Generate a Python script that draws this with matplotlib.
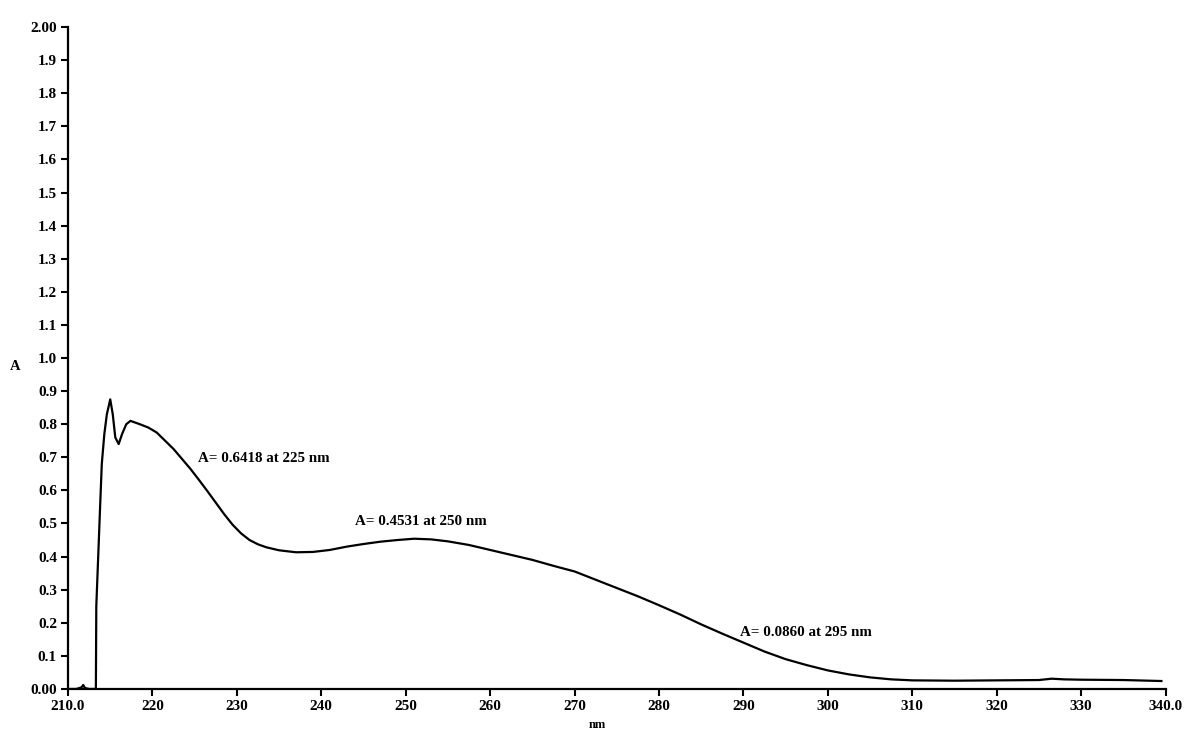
import matplotlib
matplotlib.use("Agg")
import matplotlib.pyplot as plt
from matplotlib.ticker import FixedLocator, FixedFormatter

# ---- data ----
wavelength = [210.0, 211.0, 211.6, 211.8, 212.0, 212.5, 213.2, 213.3, 213.35, 213.8, 214.0,
              214.3, 214.6, 215.0, 215.3, 215.6, 216.0, 216.4, 216.9, 217.4, 218.5,
              219.5, 220.5, 221.5, 222.5, 223.5, 224.5, 225.5, 226.5, 227.5, 228.5,
              229.5, 230.5, 231.5, 232.5, 233.5, 235.0, 237.0, 239.0, 241.0, 243.0,
              245.0, 247.0, 249.0, 251.0, 253.0, 255.0, 257.5, 260.0, 262.5, 265.0,
              267.5, 270.0, 272.5, 275.0, 277.5, 280.0, 282.5, 285.0, 287.5, 290.0,
              292.5, 295.0, 297.5, 300.0, 302.5, 305.0, 307.5, 310.0, 315.0, 320.0,
              325.0, 326.5, 328.0, 330.0, 335.0, 339.5]
absorbance = [0.0, 0.0, 0.005, 0.012, 0.003, 0.0, 0.0, 0.0, 0.25, 0.55, 0.68,
              0.77, 0.83, 0.875, 0.83, 0.76, 0.74, 0.77, 0.80, 0.81, 0.80,
              0.79, 0.775, 0.75, 0.725, 0.695, 0.665, 0.632, 0.598, 0.563, 0.528,
              0.496, 0.47, 0.45, 0.437, 0.428, 0.419, 0.413, 0.414, 0.42, 0.43,
              0.438, 0.445, 0.45, 0.454, 0.452, 0.446, 0.435, 0.42, 0.405, 0.39,
              0.372, 0.355, 0.33, 0.305, 0.28, 0.253, 0.225, 0.195, 0.167, 0.14,
              0.113, 0.09, 0.072, 0.056, 0.044, 0.035, 0.029, 0.026, 0.025, 0.026,
              0.027, 0.031, 0.029, 0.028, 0.027, 0.024]

x_ticks = [210, 220, 230, 240, 250, 260, 270, 280, 290, 300, 310, 320, 330, 340]
x_tick_labels = ["210.0", "220", "230", "240", "250", "260", "270", "280", "290",
                 "300", "310", "320", "330", "340.0"]
y_ticks = [0.0, 0.1, 0.2, 0.3, 0.4, 0.5, 0.6, 0.7, 0.8, 0.9, 1.0, 1.1, 1.2, 1.3,
           1.4, 1.5, 1.6, 1.7, 1.8, 1.9, 2.0]
y_tick_labels = ["0.00", "0.1", "0.2", "0.3", "0.4", "0.5", "0.6", "0.7", "0.8", "0.9",
                 "1.0", "1.1", "1.2", "1.3", "1.4", "1.5", "1.6", "1.7", "1.8", "1.9", "2.00"]

ann_texts = ["A= 0.6418 at 225 nm", "A= 0.4531 at 250 nm", "A= 0.0860 at 295 nm"]
ann_x = [225.4, 244.0, 289.6]
ann_y = [0.695, 0.505, 0.172]

FONT = "Liberation Serif"

fig = plt.figure(figsize=(11.87, 7.31), dpi=100)
ax = fig.add_axes([0.0573, 0.0575, 0.9247, 0.9055])
ax.plot(wavelength, absorbance, color="black", lw=1.6)

ax.set_xlim(210, 340)
ax.set_ylim(0, 2.0)
ax.xaxis.set_major_locator(FixedLocator(x_ticks))
ax.xaxis.set_major_formatter(FixedFormatter(x_tick_labels))
ax.yaxis.set_major_locator(FixedLocator(y_ticks))
ax.yaxis.set_major_formatter(FixedFormatter(y_tick_labels))

for s in ["top", "right"]:
    ax.spines[s].set_visible(False)
for s in ["left", "bottom"]:
    ax.spines[s].set_linewidth(1.6)
ax.tick_params(direction="out", length=5, width=1.5, labelsize=11, pad=3)
for lab in ax.get_xticklabels() + ax.get_yticklabels():
    lab.set_fontfamily(FONT)
    lab.set_fontweight("bold")

for t, xx, yy in zip(ann_texts, ann_x, ann_y):
    ax.text(xx, yy, t, fontsize=10.8, fontfamily=FONT, fontweight="bold",
            ha="left", va="center")

fig.text(15 / 1187, 1 - 366 / 731, "A", fontsize=10.5, fontfamily=FONT,
         fontweight="bold", ha="center", va="center")
fig.text(597 / 1187, 1 - 725 / 731, "nm", fontsize=9, fontfamily=FONT,
         fontweight="bold", ha="center", va="center")

fig.savefig("out.png", dpi=100, facecolor="white")
